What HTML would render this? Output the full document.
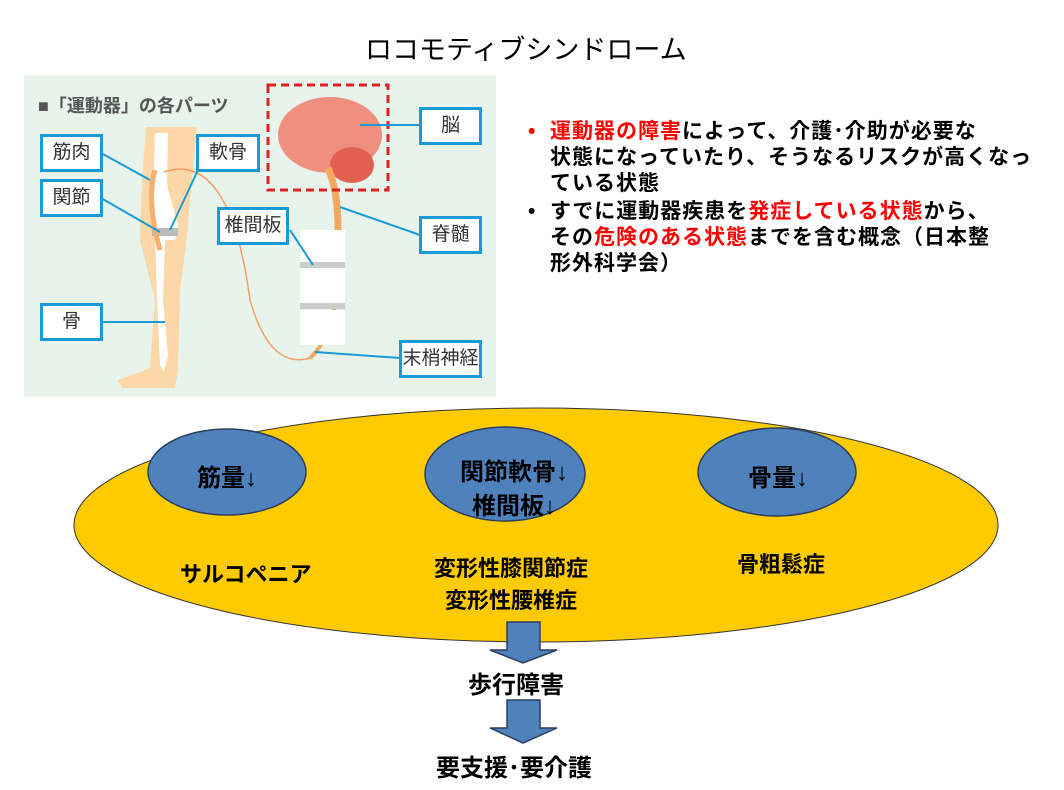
<!DOCTYPE html>
<html><head><meta charset="utf-8"><style>
body{margin:0;width:1064px;height:790px;background:#fff;position:relative;overflow:hidden;font-family:"Liberation Sans","Noto Sans CJK JP",sans-serif}
.a{position:absolute;white-space:nowrap}
.lb{position:absolute;background:#fff;border:3px solid #1a9ad6;font-size:19px;color:#333;text-align:center;box-sizing:border-box}
.b{font-weight:bold;color:#000}
.r{color:#f00}
</style></head><body>
<div class="a" style="left:365px;top:28px;font-size:27px">ロコモティブシンドローム</div>
<div style="position:absolute;left:24px;top:75px;width:472px;height:322px;background:#e8f3ec"></div>
<svg style="position:absolute;left:0;top:0" width="1064" height="790">
<path d="M146,127 L197,127 L190,200 L186,245 L180,290 L178,370 L175,388 L122,388 L118,380 L150,368 L155,300 L140,240 L142,180 Z" fill="#fcd7a8"/>
<path d="M155,133 L168,133 L167,185 L178,225 L175,240 L165,240 L163,300 L168,355 L164,372 L160,365 L157,300 L155,235 L152,220 Z" fill="#fff"/>
<rect x="152" y="228" width="26" height="8" fill="#bbb"/>
<path d="M155,170 Q146,200 160,250" stroke="#f5b070" stroke-width="5" fill="none"/>
<path d="M164,172 Q230,150 250,300 Q270,370 310,358" stroke="#f0a060" stroke-width="1.5" fill="none"/>
<ellipse cx="330" cy="135" rx="52" ry="38" fill="#ef8f7e"/>
<ellipse cx="352" cy="165" rx="22" ry="18" fill="#e2604f"/>
<path d="M328,168 Q338,190 338,230 L336,240" stroke="#f5a860" stroke-width="7" fill="none"/>
<path d="M338,240 L336,300 Q330,340 310,358" stroke="#f5a860" stroke-width="4" fill="none"/>
<rect x="268" y="85" width="120" height="105" fill="none" stroke="#d22" stroke-width="3" stroke-dasharray="8,5"/>
<rect x="300" y="230" width="45" height="35" fill="#fff"/><rect x="300" y="268" width="45" height="35" fill="#fff"/><rect x="300" y="310" width="45" height="35" fill="#fff"/>
<rect x="300" y="262" width="45" height="6" fill="#ccc"/><rect x="300" y="303" width="45" height="6" fill="#ccc"/>
<g stroke="#1a9ad6" stroke-width="2">
<line x1="101" y1="153" x2="150" y2="180"/><line x1="101" y1="198" x2="160" y2="232"/>
<line x1="198" y1="170" x2="170" y2="230"/><line x1="101" y1="322" x2="165" y2="322"/>
<line x1="360" y1="125" x2="420" y2="125"/><line x1="340" y1="207" x2="420" y2="235"/>
<line x1="290" y1="230" x2="313" y2="265"/><line x1="315" y1="352" x2="400" y2="358"/>
</g>
<ellipse cx="536" cy="525" rx="462" ry="117" fill="#fecb00" stroke="#333" stroke-width="1"/>
<g fill="#4f81bd" stroke="#2a3f5f" stroke-width="1.5">
<ellipse cx="227" cy="472" rx="79" ry="43"/><ellipse cx="505" cy="474" rx="80" ry="47"/><ellipse cx="777" cy="472" rx="79" ry="44"/>
<path d="M507,622 H540 V650 H557 L523,663 L490,650 H507 Z"/>
<path d="M507,700 H540 V728 H557 L523,743 L490,728 H507 Z"/>
</g>
</svg>
<div class="a" style="left:38px;top:92px;font-size:18px;font-weight:bold;color:#555">■「運動器」の各パーツ</div>
<div class="lb" style="left:40px;top:134px;width:63px;height:38px;line-height:32px">筋肉</div>
<div class="lb" style="left:40px;top:179px;width:63px;height:38px;line-height:32px">関節</div>
<div class="lb" style="left:40px;top:303px;width:63px;height:38px;line-height:32px">骨</div>
<div class="lb" style="left:196px;top:134px;width:64px;height:38px;line-height:32px">軟骨</div>
<div class="lb" style="left:217px;top:207px;width:72px;height:38px;line-height:32px">椎間板</div>
<div class="lb" style="left:419px;top:107px;width:63px;height:38px;line-height:32px">脳</div>
<div class="lb" style="left:419px;top:216px;width:63px;height:38px;line-height:32px">脊髄</div>
<div class="lb" style="left:399px;top:340px;width:83px;height:38px;line-height:32px">末梢神経</div>
<div class="a b" style="left:528px;top:119px;font-size:21px;line-height:26px;letter-spacing:1px">
<div style="position:relative;padding-left:22px"><span class="r" style="position:absolute;left:0">•</span><span class="r">運動器の障害</span>によって、介護･介助が必要な<br>状態になっていたり、そうなるリスクが高くなっ<br>ている状態</div>
<div style="position:relative;padding-left:22px;margin-top:2px"><span style="position:absolute;left:0">•</span>すでに運動器疾患を<span class="r">発症している状態</span>から、<br>その<span class="r">危険のある状態</span>までを含む概念（日本整<br>形外科学会）</div>
</div>
<div class="a b" style="left:197px;top:458px;font-size:24px">筋量↓</div>
<div class="a b" style="left:460px;top:456px;font-size:24px;line-height:34px;text-align:center">関節軟骨↓<br>椎間板↓</div>
<div class="a b" style="left:748px;top:458px;font-size:24px">骨量↓</div>
<div class="a b" style="left:180px;top:557px;font-size:22px">サルコペニア</div>
<div class="a b" style="left:434px;top:553px;font-size:22px;line-height:32px;text-align:center">変形性膝関節症<br>変形性腰椎症</div>
<div class="a b" style="left:737px;top:547px;font-size:22px">骨粗鬆症</div>
<div class="a b" style="left:468px;top:665px;font-size:24px">歩行障害</div>
<div class="a b" style="left:436px;top:748px;font-size:24px">要支援･要介護</div>
</body></html>
